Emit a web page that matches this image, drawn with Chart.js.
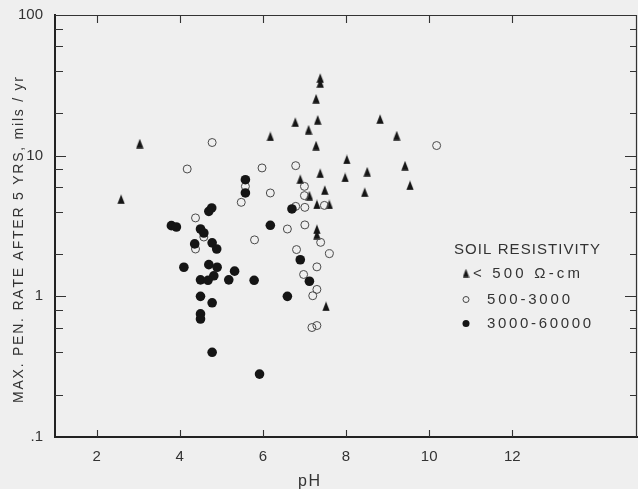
<!DOCTYPE html>
<html><head><meta charset="utf-8">
<script src="https://cdn.jsdelivr.net/npm/chart.js@4.4.1/dist/chart.umd.min.js"></script>
<style>html,body{margin:0;padding:0;background:#efefef;overflow:hidden}</style>
</head><body>
<canvas id="c" width="638" height="489"></canvas>
<script>
// ---- data ----
const lowPH   = [2.59,3.04,6.18,6.78,6.90,7.10,7.12,7.28,7.32,7.28,7.38,7.38,7.38,7.49,7.30,7.60,7.30,7.30,7.52,8.02,7.98,8.82,9.22,8.51,8.45,9.42,9.54];
const lowRate = [4.9,12.2,13.7,17.3,6.8,15.3,5.2,25.4,18.0,11.8,35.6,32.9,7.5,5.7,4.5,4.5,3.0,2.75,0.85,9.4,7.0,18.2,13.9,7.7,5.5,8.5,6.15];

const midPH   = [4.78,4.18,4.38,4.58,4.38,5.48,5.80,5.98,5.58,6.18,6.79,7.00,7.00,6.79,7.01,7.01,6.59,6.81,6.98,7.48,7.39,7.60,7.30,7.30,7.20,7.18,7.30,10.18];
const midRate = [12.4,8.04,3.61,2.64,2.17,4.66,2.52,8.18,6.05,5.43,8.49,6.05,5.2,4.36,4.29,3.22,3.01,2.15,1.43,4.43,2.42,2.01,1.62,1.12,1.01,0.60,0.62,11.8];

const highPH   = [3.80,3.92,4.70,4.77,4.50,4.58,4.36,4.78,4.89,4.10,4.70,4.90,5.32,4.82,4.50,4.68,5.18,5.79,6.18,4.50,4.78,4.50,4.50,4.78,5.58,5.58,6.70,6.90,6.59,5.92,7.12];
const highRate = [3.18,3.11,4.02,4.25,3.01,2.82,2.36,2.40,2.17,1.61,1.68,1.61,1.51,1.40,1.31,1.30,1.31,1.30,3.20,1.00,0.90,0.75,0.69,0.40,6.75,5.43,4.18,1.82,1.00,0.28,1.28];

const xTicks = [2,4,6,8,10,12];
const xTickLabels = ['2','4','6','8','10','12'];
const yTicks = [0.1,1,10,100];
const yTickLabels = ['.1','1','10','100'];
const minorMult = [2,4,6,8];

const seriesNames = ['< 500 \u03A9-cm','500-3000','3000-60000'];
const legendTitle = 'SOIL RESISTIVITY';
const xTitle = 'pH';
const yTitle = 'MAX. PEN. RATE AFTER 5 YRS, mils / yr';

// ---- styles ----
const FONT = '"Liberation Sans", Arial, sans-serif';
const INK = '#151515';
const TXT = '#333';

function triCanvas(w,h,color){
  const c=document.createElement('canvas'); c.width=w; c.height=h;
  const g=c.getContext('2d'); g.fillStyle=color;
  g.beginPath(); g.moveTo(w/2,0.2); g.lineTo(w-0.3,h-0.3); g.lineTo(0.3,h-0.3); g.closePath(); g.fill();
  return c;
}
const tri = triCanvas(8,10,INK);
const triSmall = triCanvas(7,9,INK);

function toPts(xs,ys){ return xs.map((x,i)=>({x:x,y:ys[i]})); }

function spaced(ctx, text, x, y, width){
  const chars = [...text];
  let sum = 0; const ws = chars.map(ch=>{const w=ctx.measureText(ch).width; sum+=w; return w;});
  const gap = chars.length>1 ? (width-sum)/(chars.length-1) : 0;
  let cx = x;
  chars.forEach((ch,i)=>{ ctx.fillText(ch,cx,y); cx += ws[i]+gap; });
}

const bgPlugin = {
  id:'bg',
  beforeDraw(chart){
    const ctx=chart.ctx; ctx.save(); ctx.fillStyle='#efefef'; ctx.fillRect(0,0,chart.width,chart.height); ctx.restore();
  }
};

const framePlugin = {
  id:'frame',
  beforeDatasetsDraw(chart){
    const {ctx, chartArea:a, scales:{x,y}} = chart;
    ctx.save();
    ctx.strokeStyle='#333'; ctx.lineWidth=1.2;
    ctx.beginPath();
    ctx.moveTo(a.left,a.top+0.5); ctx.lineTo(a.right,a.top+0.5);
    ctx.moveTo(a.right-0.5,a.top); ctx.lineTo(a.right-0.5,a.bottom);
    ctx.stroke();
    ctx.lineWidth=1.1; ctx.beginPath();
    xTicks.forEach(v=>{
      const px=Math.round(x.getPixelForValue(v))+0.5;
      ctx.moveTo(px,a.bottom); ctx.lineTo(px,a.bottom-7);
      ctx.moveTo(px,a.top); ctx.lineTo(px,a.top+8);
    });
    [0.1,1,10].forEach(d=>{
      minorMult.forEach(m=>{
        const py=Math.round(y.getPixelForValue(d*m))+0.5;
        ctx.moveTo(a.left,py); ctx.lineTo(a.left+8,py);
        ctx.moveTo(a.right,py); ctx.lineTo(a.right-7,py);
      });
    });
    [1,10].forEach(v=>{
      const py=Math.round(y.getPixelForValue(v))+0.5;
      ctx.moveTo(a.left,py); ctx.lineTo(a.left+11,py);
      ctx.moveTo(a.right,py); ctx.lineTo(a.right-12,py);
    });
    ctx.stroke();
    ctx.restore();
  },
  afterDraw(chart){
    const ctx=chart.ctx;
    ctx.save();
    ctx.fillStyle=TXT;
    ctx.font='14px '+FONT; ctx.textBaseline='middle';
    ctx.save(); ctx.translate(19,403); ctx.rotate(-Math.PI/2);
    spaced(ctx,yTitle,0,0,326);
    ctx.restore();
    ctx.font='16px '+FONT; ctx.textBaseline='alphabetic';
    spaced(ctx,xTitle,298,486,22);
    ctx.font='15px '+FONT; ctx.textBaseline='middle';
    spaced(ctx,legendTitle,454,250,146);
    spaced(ctx,seriesNames[0],473,273.5,107);
    spaced(ctx,seriesNames[1],487,299.5,83);
    spaced(ctx,seriesNames[2],487,323.5,104);
    ctx.drawImage(triSmall,466-3.5,273-4.5);
    ctx.strokeStyle='#444'; ctx.lineWidth=1;
    ctx.beginPath(); ctx.arc(466,299.5,3,0,Math.PI*2); ctx.stroke();
    ctx.fillStyle=INK; ctx.beginPath(); ctx.arc(466,323.5,3.5,0,Math.PI*2); ctx.fill();
    ctx.restore();
  }
};

new Chart(document.getElementById('c'), {
  type:'scatter',
  data:{datasets:[
    {label:seriesNames[2], data:toPts(highPH,highRate), pointStyle:'circle', pointRadius:4.8, pointBackgroundColor:INK, pointBorderWidth:0},
    {label:seriesNames[1], data:toPts(midPH,midRate), pointStyle:'circle', pointRadius:4, pointBackgroundColor:'rgba(0,0,0,0)', pointBorderColor:'#4a4a4a', pointBorderWidth:1},
    {label:seriesNames[0], data:toPts(lowPH,lowRate), pointStyle:tri, pointRadius:4}
  ]},
  options:{
    responsive:false, animation:false, events:[],
    layout:{autoPadding:false, padding:{top:15,right:1,left:0,bottom:0}},
    plugins:{legend:{display:false}, tooltip:{enabled:false}},
    scales:{
      x:{type:'linear', min:1, max:15,
        afterFit(s){s.height=52; s.paddingLeft=0; s.paddingRight=0;},
        afterBuildTicks(s){s.ticks=xTicks.map(v=>({value:v}));},
        ticks:{callback:(v,i)=>xTickLabels[i], font:{size:15,family:FONT}, color:TXT, padding:11, autoSkip:false, maxRotation:0},
        grid:{display:false, drawTicks:false},
        border:{display:true, color:'#222', width:2}
      },
      y:{type:'logarithmic', min:0.1, max:100,
        afterFit(s){s.width=55; s.paddingTop=0; s.paddingBottom=0;},
        afterBuildTicks(s){s.ticks=yTicks.map(v=>({value:v}));},
        ticks:{callback:(v,i)=>yTickLabels[i], font:{size:15,family:FONT}, color:TXT, padding:12, autoSkip:false},
        grid:{display:false, drawTicks:false},
        border:{display:true, color:'#222', width:2}
      }
    }
  },
  plugins:[bgPlugin, framePlugin]
});
</script>
</body></html>
